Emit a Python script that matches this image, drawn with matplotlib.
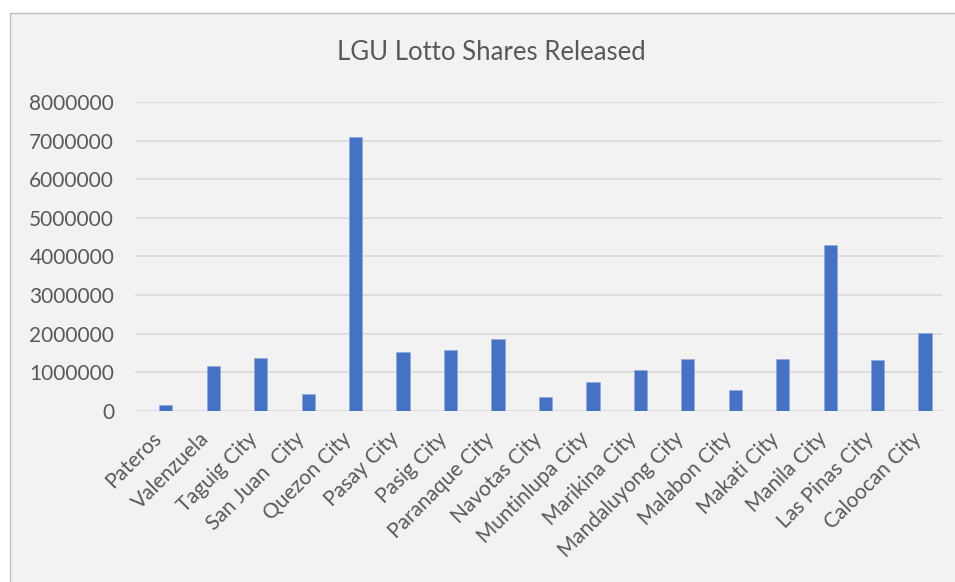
import matplotlib.pyplot as plt
import matplotlib.transforms as mtransforms
from matplotlib.patches import Rectangle

# Data
cities = ['Pateros', 'Valenzuela', 'Taguig City', 'San Juan  City', 'Quezon City',
          'Pasay City', 'Pasig City', 'Paranaque City', 'Navotas City',
          'Muntinlupa City', 'Marikina City', 'Mandaluyong City', 'Malabon City',
          'Makati City', 'Manila City', 'Las Pinas City', 'Caloocan City']
shares = [147000, 1167000, 1357000, 424000, 7099000,
          1513000, 1565000, 1859000, 354000,
          735000, 1064000, 1340000, 528000,
          1340000, 4297000, 1306000, 2015000]
yticks = [0, 1000000, 2000000, 3000000, 4000000, 5000000, 6000000, 7000000, 8000000]

text_color = '#595959'
plt.rcParams['font.family'] = ['Lato', 'DejaVu Sans']

fig = plt.figure(figsize=(9.55, 5.82), dpi=100, facecolor='white')

# chart area frame (grey border, light grey fill), cut off at right/bottom
W, H = 955, 582
frame = Rectangle((10 / W, -0.05), 1.05, 1 - 13 / H + 0.05, transform=fig.transFigure,
                  facecolor='#F2F2F2', edgecolor='#BFBFBF', linewidth=1.0, zorder=-10)
fig.patches.append(frame)

ax = fig.add_axes([135 / W, 1 - 410.7 / H, (941.7 - 135) / W, (410.7 - 102.3) / H])
ax.set_facecolor('none')

x = list(range(len(cities)))
# bars sit a little right of the category centre (empty second series in the source)
bar_x = [i + 0.15 for i in x]
ax.bar(bar_x, shares, width=0.28, color='#4472C4', edgecolor='#8FAADC', linewidth=0.4, zorder=3)

ax.set_xlim(-0.5, len(cities) - 0.5)
ax.set_ylim(0, 8000000)
ax.set_yticks(yticks)
ax.set_yticklabels([str(v) for v in yticks])
ax.grid(axis='y', color='#D9D9D9', linewidth=1.2, zorder=0)
ax.set_axisbelow(True)

for spine in ax.spines.values():
    spine.set_visible(False)

ax.tick_params(axis='y', length=0, pad=15, labelsize=15, labelcolor=text_color)
ax.tick_params(axis='x', length=0, pad=18, labelsize=15, labelcolor=text_color)
ax.set_xticks(x)
ax.set_xticklabels(cities, rotation=45, ha='right', va='center', rotation_mode='anchor')
shift = mtransforms.ScaledTranslation(0, 0, fig.dpi_scale_trans)
for lbl in ax.get_xticklabels():
    lbl.set_transform(lbl.get_transform() + shift)

fig.text(491 / W, 1 - 52.5 / H, 'LGU Lotto Shares Released', ha='center', va='center',
         fontsize=18.5, color=text_color)

fig.savefig('out.png', dpi=100, facecolor='white')
